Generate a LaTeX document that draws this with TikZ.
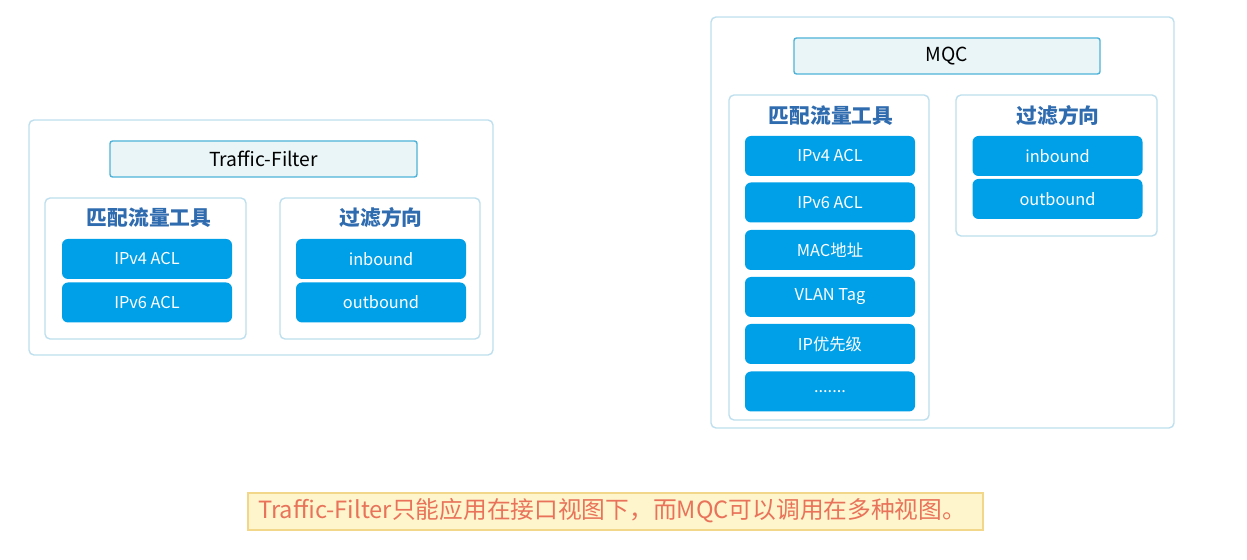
\documentclass[tikz,border=0pt]{standalone}
\usepackage{fontspec}
\setmainfont{Noto Sans CJK SC}
\usepackage{tikz}

\definecolor{framec}{HTML}{BEE0EE}
\definecolor{btnc}{HTML}{00A0E9}
\definecolor{headc}{HTML}{2F6BAF}
\definecolor{labfill}{HTML}{EAF5F8}
\definecolor{labdraw}{HTML}{4FB3D9}
\definecolor{notefill}{HTML}{FFF5CC}
\definecolor{notedraw}{HTML}{F2D68A}
\definecolor{notetext}{HTML}{E8735A}

\begin{document}
\begin{tikzpicture}[x=1cm,y=1cm,
  frame/.style={draw=framec,line width=0.8pt,fill=white,rounded corners=0.1cm,inner sep=0pt},
  label/.style={draw=labdraw,line width=0.8pt,fill=labfill,rounded corners=0.05cm,minimum height=0.72cm,inner sep=0pt,font=\fontsize{11}{13}\selectfont},
  head/.style={inner sep=0pt,text=headc,font=\fontsize{11.8}{14}\bfseries\selectfont},
  btn/.style={fill=btnc,rounded corners=0.12cm,minimum width=3.4cm,minimum height=0.8cm,inner sep=0pt,text=white,font=\fontsize{9.3}{12}\selectfont}]
\path[use as bounding box] (0,0) rectangle (24.94,11.2);

% Traffic-Filter
\node[frame,minimum width=9.28cm,minimum height=4.7cm] (tfbox) at (5.22,6.45) {};
\node[label,minimum width=6.14cm] (tf) at (5.27,8.02) {Traffic-Filter};
\node[frame,minimum width=4.02cm,minimum height=2.82cm] (tfmatch) at (2.91,5.83) {};
\node[head] (tfmatchhd) at (2.98,6.84) {匹配流量工具};
\node[btn] (tfv4) at (2.94,6.02) {IPv4 ACL};
\node[btn] (tfv6) at (2.94,5.15) {IPv6 ACL};
\node[frame,minimum width=4.0cm,minimum height=2.82cm] (tfdir) at (7.60,5.83) {};
\node[head] (tfdirhd) at (7.62,6.84) {过滤方向};
\node[btn] (tfin) at (7.62,6.02) {inbound};
\node[btn] (tfout) at (7.62,5.15) {outbound};

% MQC
\node[frame,minimum width=9.26cm,minimum height=8.22cm] (mqcbox) at (18.85,6.75) {};
\node[label,minimum width=6.12cm] (mqc) at (18.94,10.08) {MQC};
\node[frame,minimum width=4.0cm,minimum height=6.5cm] (mqcmatch) at (16.58,6.05) {};
\node[head] (mqcmatchhd) at (16.62,8.88) {匹配流量工具};
\node[btn] (mqcv4) at (16.60,8.08) {IPv4 ACL};
\node[btn] (mqcv6) at (16.60,7.15) {IPv6 ACL};
\node[btn] (mqcmac) at (16.60,6.20) {MAC地址};
\node[btn] (mqcvlan) at (16.60,5.26) {VLAN Tag};
\node[btn] (mqcip) at (16.60,4.32) {IP优先级};
\node[btn] (mqcmore) at (16.60,3.37) {.......};
\node[frame,minimum width=4.02cm,minimum height=2.82cm] (mqcdir) at (21.13,7.89) {};
\node[head] (mqcdirhd) at (21.16,8.88) {过滤方向};
\node[btn] (mqcin) at (21.15,8.08) {inbound};
\node[btn] (mqcout) at (21.15,7.22) {outbound};

% note
\node[draw=notedraw,line width=0.8pt,fill=notefill,minimum width=14.7cm,minimum height=0.74cm,inner sep=0pt] (note) at (12.31,0.97) {};
\node[right,inner sep=0pt,text=notetext,font=\fontsize{13.5}{16}\selectfont] (notetxt) at (5.16,0.98) {Traffic-Filter只能应用在接口视图下，而MQC可以调用在多种视图。};
\end{tikzpicture}
\end{document}
